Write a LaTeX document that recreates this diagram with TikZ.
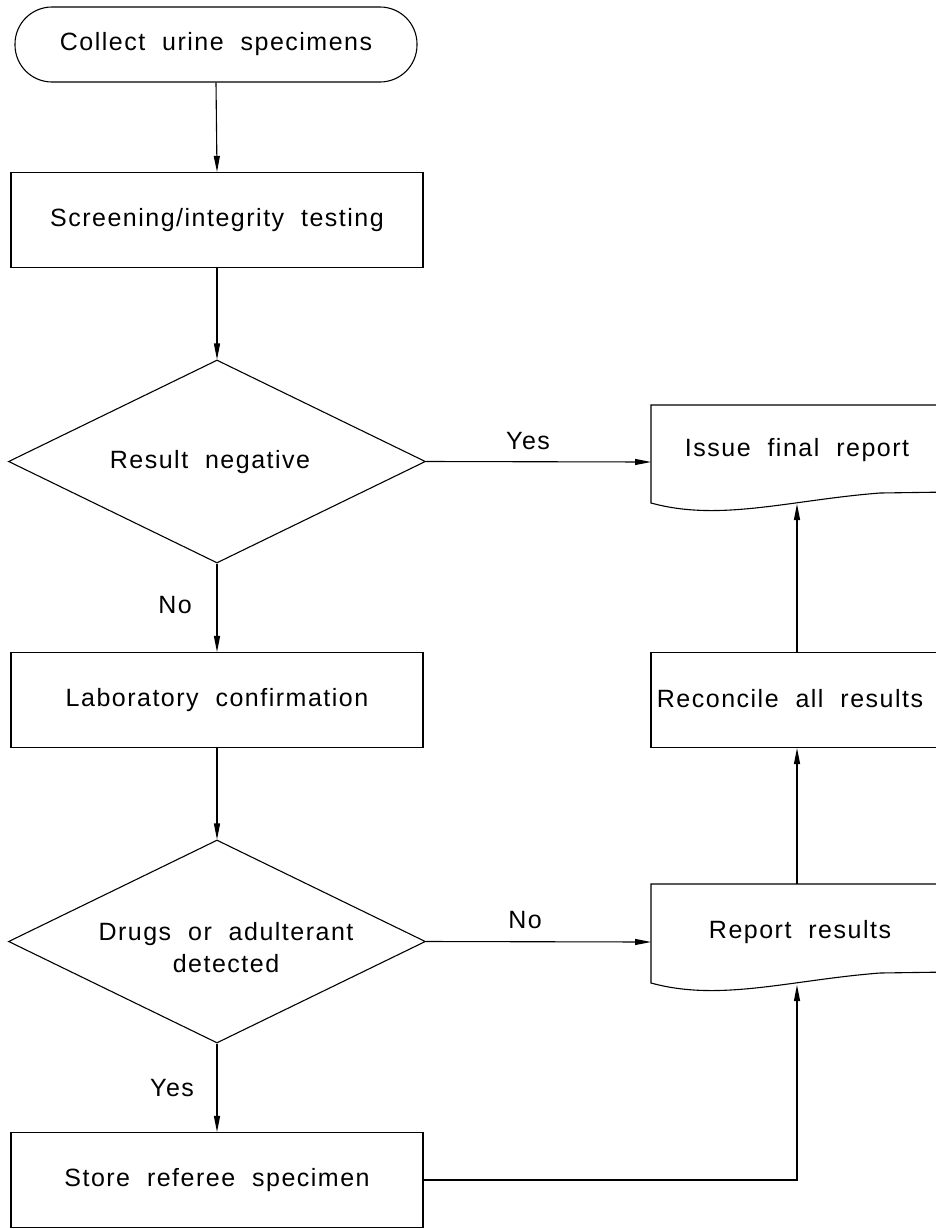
\documentclass[tikz,border=0pt]{standalone}
\usepackage{fontspec}
\setmainfont{Liberation Sans}[LetterSpace=6,WordSpace=2]
\usetikzlibrary{arrows.meta,shapes.geometric}
\begin{document}
\begin{tikzpicture}[x=1pt,y=-1pt,
  every node/.style={font=\fontsize{25}{32}\selectfont},
  line/.style={line width=1.1pt},
  arr/.style={line width=1.1pt,-{Triangle[length=16pt,width=6pt]}},
  box/.style={draw,line width=1.1pt,minimum width=412pt,minimum height=95pt,inner sep=0pt},
  rbox/.style={draw,line width=1.1pt,minimum width=296pt,minimum height=95pt,inner sep=0pt},
  term/.style={draw,line width=1.1pt,rounded corners=37pt,minimum width=402pt,minimum height=75pt,inner sep=0pt},
  dia/.style={draw,line width=1.1pt,diamond,aspect=2.05,minimum width=417pt,minimum height=203pt,inner sep=0pt},
  docnode/.style={minimum width=296pt,minimum height=95pt,inner sep=0pt},
  lbl/.style={inner sep=0pt}
]
\useasboundingbox (0,0) rectangle (936,1229);
\clip (0,0) rectangle (936,1229);

% left column
\node[term] (collect) at (216,44.5) {Collect urine specimens};
\node[box] (screen) at (217,220) {Screening/integrity testing};
\node[dia] (res) at (217,461.5) {};
\node[lbl] (restext) at (210,462) {Result negative};
\node[box] (lab) at (217,700) {Laboratory confirmation};
\node[dia] (drugs) at (217,941.5) {};
\node[lbl,align=center] (drugstext) at (226,948) {Drugs or adulterant\\detected};
\node[box] (store) at (217,1180) {Store referee specimen};

% right column
\node[docnode] (issue) at (797,450) {Issue final report};
\draw[line] (950,492) -- (880,493) .. controls (790,500) and (720,522) .. (651,503) -- (651,405) -- (950,405);
\coordinate (issueb) at (797,504);
\node[rbox] (recon) at (799,700) {};
\node[lbl] (recontext) at (790,699) {Reconcile all results};
\node[docnode] (report) at (800,932) {Report results};
\draw[line] (950,972) -- (880,973) .. controls (790,980) and (720,1002) .. (651,983) -- (651,884) -- (950,884);
\coordinate (reportb) at (797,985);
\coordinate (reportt) at (797,884);
\coordinate (issuel) at (651,462);
\coordinate (reportl) at (651,942);

% connectors
\draw[arr] (collect.south) -- (screen.north);
\draw[arr] (screen.south) -- (res.north);
\draw[arr] (res.east) -- (issuel);
\node[lbl] (yes1) at (528,441) {Yes};
\draw[arr] (res.south) -- (lab.north);
\node[lbl] (no1) at (175,605) {No};
\draw[arr] (lab.south) -- (drugs.north);
\draw[arr] (drugs.east) -- (reportl);
\node[lbl] (no2) at (525,920) {No};
\draw[arr] (drugs.south) -- (store.north);
\node[lbl] (yes2) at (172,1088) {Yes};
\draw[arr] (store.east) -| (reportb);
\draw[arr] (reportt) -- (recon.south -| reportt);
\draw[arr] (recon.north -| reportt) -- (issueb);
\end{tikzpicture}
\end{document}
